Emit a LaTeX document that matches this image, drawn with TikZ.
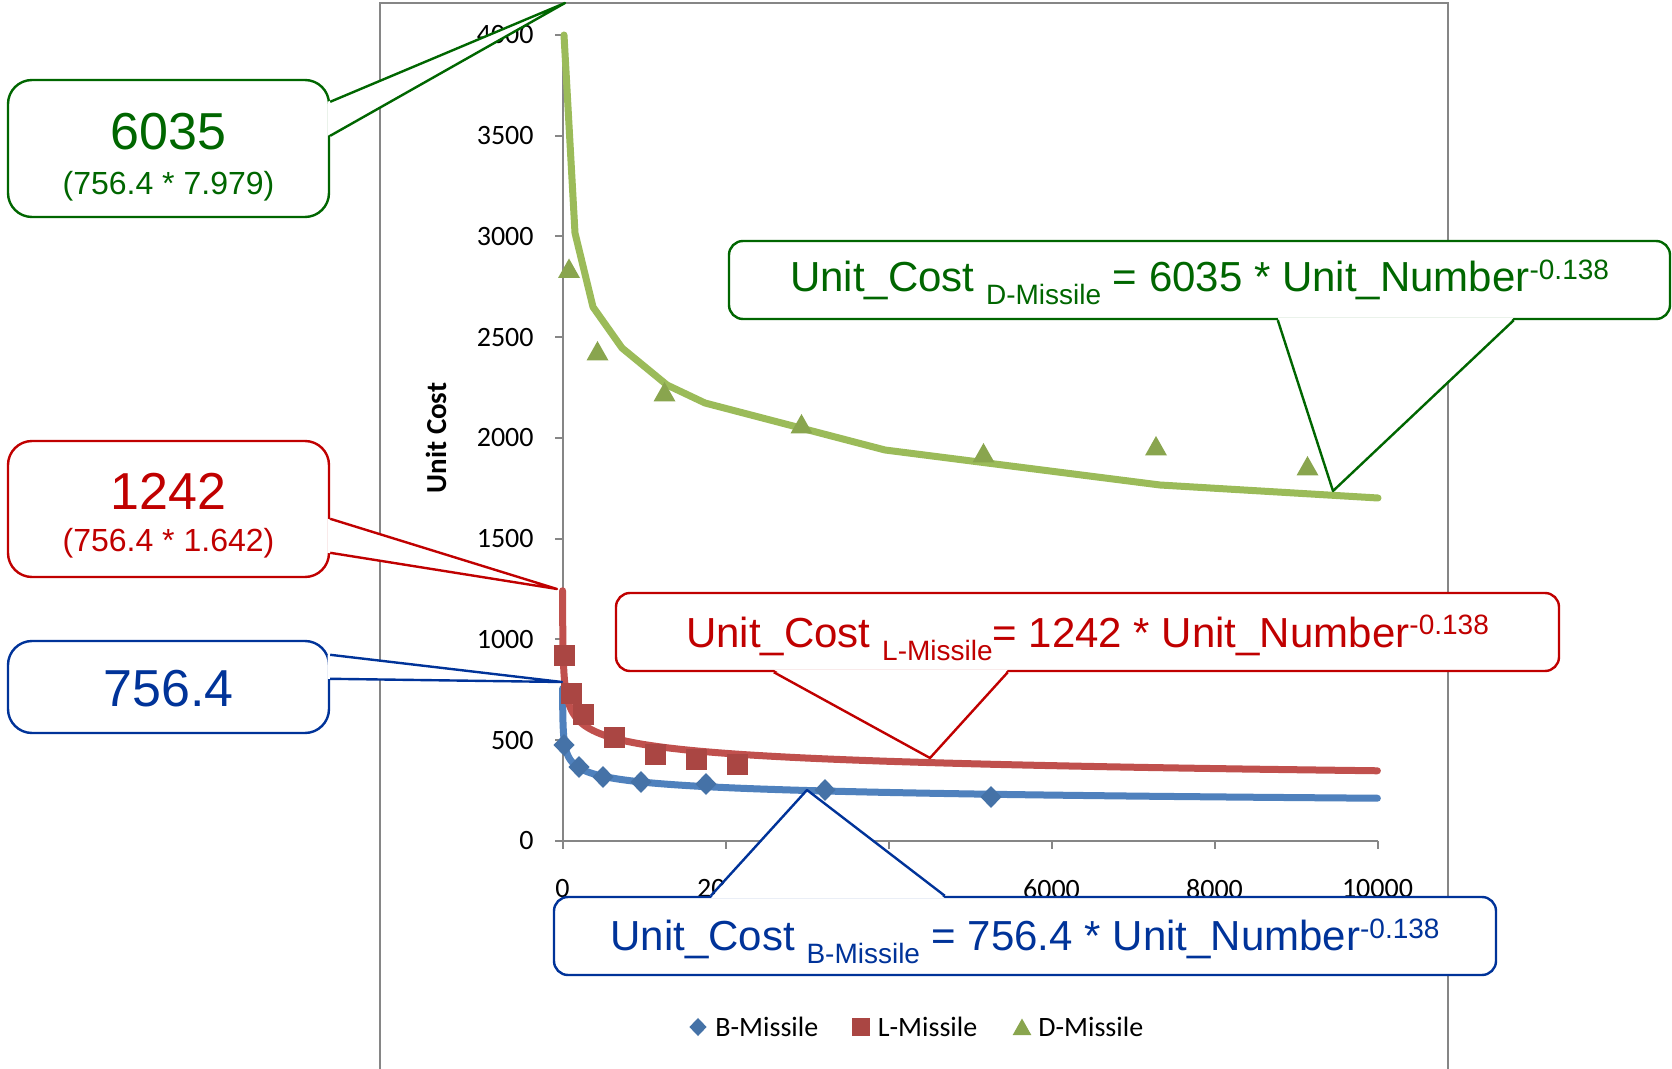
\documentclass[tikz,border=0pt]{standalone}
\usepackage{fontspec}
\newfontfamily\arialf{Liberation Sans}
\newfontfamily\calf{Carlito}
\usetikzlibrary{calc}
\definecolor{cgreen}{RGB}{0,102,0}
\definecolor{cred}{RGB}{192,0,0}
\definecolor{cblue}{RGB}{0,51,153}
\definecolor{axgray}{RGB}{134,134,134}
\definecolor{bln}{HTML}{4F81BD}
\definecolor{rln}{HTML}{C0504D}
\definecolor{gln}{HTML}{9BBB59}
\definecolor{bmk}{HTML}{4572A7}
\definecolor{rmk}{HTML}{AA4643}
\definecolor{gmk}{HTML}{89A54E}
\newcommand\mysub[1]{\raisebox{-6.5pt}{\fontsize{14}{16}\selectfont #1}}
\newcommand\mysup[1]{\raisebox{6pt}{\fontsize{14}{16}\selectfont #1}}
\tikzset{
  bdia/.pic={\fill[bmk] (-10.5,0) -- (0,-11) -- (10.5,0) -- (0,11) -- cycle;},
  rsq/.pic={\fill[rmk] (-10.5,-10.5) rectangle (10.5,10.5);},
  gtri/.pic={\fill[gmk] (-11,9.5) -- (0,-10) -- (11,9.5) -- cycle;},
}
\begin{document}
\begin{tikzpicture}[x=0.5pt,y=-0.5pt,
  axisline/.style={draw=axgray, line width=1pt},
  ylab/.style={anchor=east, inner sep=0pt, font=\calf\fontsize{14}{16}\selectfont},
  xlab/.style={anchor=center, inner sep=0pt, font=\calf\fontsize{14}{16}\selectfont},
  leg/.style={anchor=base west, inner sep=0pt, font=\calf\fontsize{14}{16}\selectfont},
  curve/.style={line width=3.5pt, line cap=round, line join=round},
  numbox/.style={draw, fill=white, line width=1.2pt, rounded corners=12pt, minimum width=160.5pt, inner sep=0pt},
  eqbox/.style={draw, fill=white, line width=1.2pt, rounded corners=7pt, minimum height=39pt, inner sep=0pt},
  wedge/.style={line width=1.2pt, line join=round},
  bignum/.style={inner sep=0pt, font=\arialf\fontsize{26}{30}\selectfont},
  smallnum/.style={inner sep=0pt, font=\arialf\fontsize{16}{19}\selectfont},
  eqtext/.style={anchor=base, inner sep=0pt, font=\arialf\fontsize{21}{25}\selectfont},
]
\useasboundingbox (0,0) rectangle (1672,1069);
\fill[white] (0,0) rectangle (1672,1069);

% chart area frame
\draw[axisline] (380,1069) -- (380,3) -- (1448,3) -- (1448,1069);

% axes
\draw[axisline] (562.5,35) -- (562.5,849);
\draw[axisline] (555,841) -- (1378,841);
\foreach \i in {0,...,8} \draw[axisline] (555,{841-\i*100.75}) -- (562.5,{841-\i*100.75});
\foreach \i in {0,...,5} \draw[axisline] ({562.5+\i*163},841) -- ({562.5+\i*163},849);
\foreach \v [count=\i from 0] in {0,500,...,4000} \node[ylab] (yl\i) at (534,{841-\i*100.75}) {\v};
\foreach \v [count=\i from 0] in {0,2000,...,10000} \node[xlab] (xl\i) at ({562.5+\i*163},889) {\v};
\node[rotate=90, inner sep=0pt, font=\calf\bfseries\fontsize{14.5}{17}\selectfont] (ytitle) at (436,438) {Unit Cost};

% B-Missile
\draw[curve, bln] plot[domain=0:9.2103, samples=160] ({562.5+0.08155*exp(\x)},{841-0.2015*756.4*exp(-0.138*\x)});
\foreach \a/\b in {564/745,579/767,603/777,641/782,706/784,825/790,991/797} \pic at (\a,\b) {bdia};
% L-Missile
\draw[curve, rln] plot[domain=0:9.2103, samples=160] ({562.5+0.08155*exp(\x)},{841-0.2015*1242*exp(-0.138*\x)});
\foreach \a/\b in {564/656,571/693,583/714,614/737,655/754,696/759,737/764} \pic at (\a,\b) {rsq};
% D-Missile
\draw[curve, gln] (564,35) -- (575,233) -- (593,307) -- (622,348) -- (667,385) -- (705,403) -- (885,450) -- (1160,485) -- (1378,498);
\foreach \a/\b in {569/268.5,597.5/351,664.5/392,801.5/424,983.5/453,1156/446,1307.5/466} \pic at (\a,\b) {gtri};

% legend
\pic[scale=0.82] at (698,1027) {bdia};
\node[leg] (lb) at (715,1036) {B-Missile};
\pic[scale=0.9] at (861,1027) {rsq};
\node[leg] (ll) at (877.5,1036) {L-Missile};
\pic[scale=0.85] at (1022,1027) {gtri};
\node[leg] (ld) at (1038,1036) {D-Missile};

% ---- callouts ----
% 6035
\node[numbox, draw=cgreen, minimum height=68.5pt] (gnum) at (168.5,148.5) {};
\coordinate (gtip) at (565,3);
\path (gnum.north east) ++(0,23) coordinate (g1a) (gnum.north east) ++(0,57) coordinate (g1b);
\fill[white] ($(g1a)+(-2.5,0)$) -- (gtip) -- ($(g1b)+(-2.5,0)$) -- cycle;
\draw[wedge, cgreen] (g1a) -- (gtip) -- (g1b);
\node[bignum, text=cgreen] (gn1) at (168.5,132) {6035};
\node[smallnum, text=cgreen] (gn2) at (168.5,186) {(756.4 * 7.979)};

% 1242
\node[numbox, draw=cred, minimum height=68pt] (rnum) at (168.5,509) {};
\coordinate (rtip) at (557,589);
\path (rnum.north east) ++(0,79) coordinate (r1a) (rnum.north east) ++(0,113) coordinate (r1b);
\fill[white] ($(r1a)+(-2.5,0)$) -- (rtip) -- ($(r1b)+(-2.5,0)$) -- cycle;
\draw[wedge, cred] (r1a) -- (rtip) -- (r1b);
\node[bignum, text=cred] (rn1) at (168.5,491) {1242};
\node[smallnum, text=cred] (rn2) at (168.5,543) {(756.4 * 1.642)};

% 756.4
\node[numbox, draw=cblue, minimum height=46pt] (bnum) at (168.5,687) {};
\coordinate (btip) at (562,682);
\path (bnum.north east) ++(0,15) coordinate (b1a) (bnum.north east) ++(0,39) coordinate (b1b);
\fill[white] ($(b1a)+(-2.5,0)$) -- (btip) -- ($(b1b)+(-2.5,0)$) -- cycle;
\draw[wedge, cblue] (b1a) -- (btip) -- (b1b);
\node[bignum, text=cblue] (bn1) at (168.5,689) {756.4};

% D equation
\node[eqbox, draw=cgreen, minimum width=470.5pt] (geq) at (1199.5,280) {};
\coordinate (gtip2) at (1333,491);
\path (geq.south west) ++(550,0) coordinate (g2a) (geq.south west) ++(786,0) coordinate (g2b);
\fill[white] ($(g2a)+(0,-2.5)$) -- (gtip2) -- ($(g2b)+(0,-2.5)$) -- cycle;
\draw[wedge, cgreen] (g2a) -- (gtip2) -- (g2b);
\node[eqtext, text=cgreen] (geqt) at (1199.5,292) {Unit\_Cost \mysub{D-Missile} = 6035 * Unit\_Number\mysup{-0.138}};

% L equation
\node[eqbox, draw=cred, minimum width=471.5pt] (req) at (1087.5,632) {};
\coordinate (rtip2) at (930,758);
\path (req.south west) ++(159,0) coordinate (r2a) (req.south west) ++(393,0) coordinate (r2b);
\fill[white] ($(r2a)+(0,-2.5)$) -- (rtip2) -- ($(r2b)+(0,-2.5)$) -- cycle;
\draw[wedge, cred] (r2a) -- (rtip2) -- (r2b);
\node[eqtext, text=cred] (reqt) at (1087.5,647) {Unit\_Cost \mysub{L-Missile}= 1242 * Unit\_Number\mysup{-0.138}};

% B equation
\node[eqbox, draw=cblue, minimum width=471pt] (beq) at (1025,936) {};
\coordinate (btip2) at (807,790);
\path (beq.north west) ++(158,0) coordinate (b2a) (beq.north west) ++(392,0) coordinate (b2b);
\fill[white] ($(b2a)+(0,2.5)$) -- (btip2) -- ($(b2b)+(0,2.5)$) -- cycle;
\draw[wedge, cblue] (b2a) -- (btip2) -- (b2b);
\node[eqtext, text=cblue] (beqt) at (1025,950) {Unit\_Cost \mysub{B-Missile} = 756.4 * Unit\_Number\mysup{-0.138}};
\end{tikzpicture}
\end{document}
